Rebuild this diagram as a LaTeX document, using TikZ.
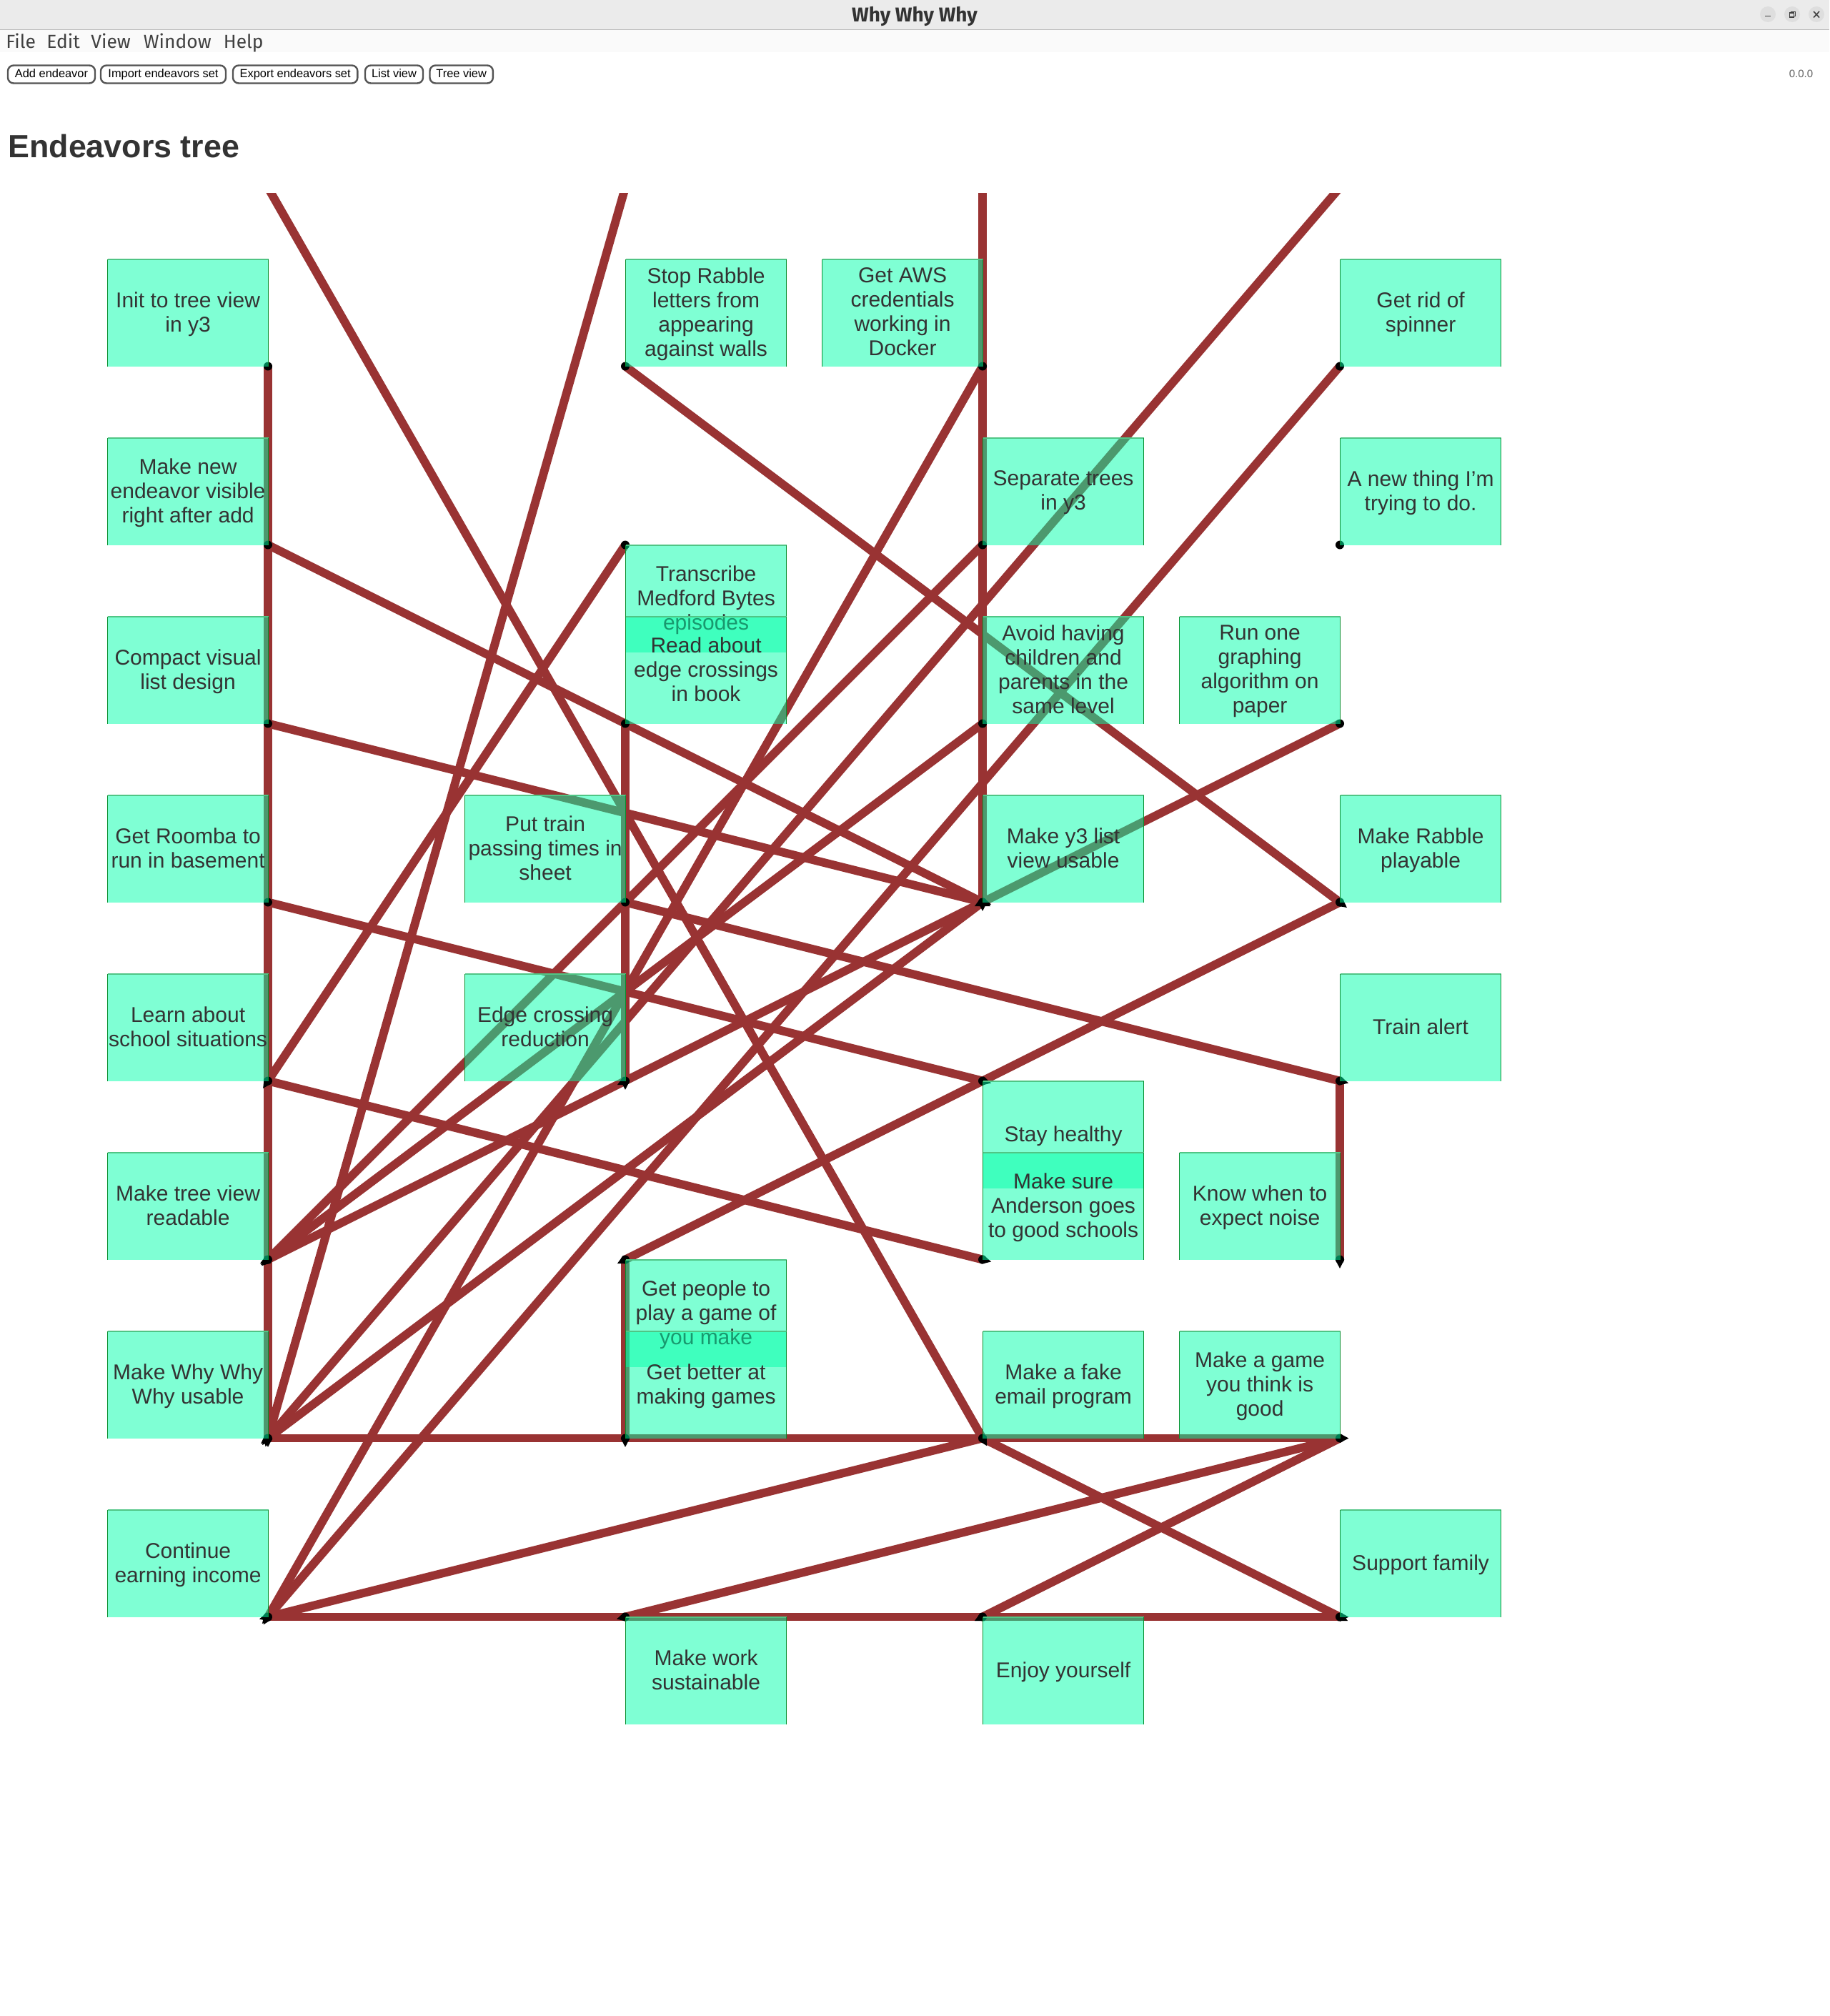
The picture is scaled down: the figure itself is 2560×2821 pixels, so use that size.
\documentclass[tikz,border=0pt]{standalone}
\usepackage{fontspec}
\setmainfont{Liberation Sans}
\newfontfamily\uifont{Fira Sans}
\usetikzlibrary{calc}
\definecolor{linkc}{HTML}{993333}
\definecolor{boxc}{HTML}{00FFAA}
\definecolor{ink}{HTML}{333333}
\definecolor{edgec}{HTML}{0A8F30}
\definecolor{edgetop}{HTML}{50C585}
\tikzset{
  boxn/.style={rectangle,inner sep=0pt,minimum width=112pt,minimum height=74.8pt,anchor=north west,
    fill=boxc,fill opacity=.5},
  boxtext/.style={inner sep=0pt,text=ink,align=center,font=\fontsize{15}{17}\selectfont,
    execute at begin node={\rule{0pt}{13.6pt}},execute at end node={\rule[-3.2pt]{0pt}{3.2pt}}},
  link/.style={linkc,line width=5.9pt},
  dotn/.style={circle,fill=black,inner sep=0pt,minimum size=6pt},
  btn/.style={draw=black!67,line width=1.2pt,rounded corners=4pt,inner sep=0pt,minimum height=12.5pt,
    text height=6pt,text depth=1.7pt,font=\fontsize{8.2}{10}\selectfont,text=black},
  menun/.style={anchor=base west,inner sep=0pt,font=\uifont\fontsize{13.2}{15}\selectfont,text=black!75},
  wbtn/.style={circle,fill=black!13,inner sep=0pt,minimum size=11pt},
  wicon/.style={black!75,line width=.6pt}
}
\newcommand{\bx}[5][-.9pt]{%
  \node[boxn] (#2) at (#3+.7,#4-.3) {};
  \draw[edgetop,line width=1pt] (#2.north west) -- (#2.north east);
  \draw[edgec,line width=.5pt] (#2.north west) -- (#2.south west);
  \draw[edgec,line width=.5pt] (#2.north east) -- (#2.south east);
  \node[boxtext,yshift=#1] (#2t) at (#2.center) {#5};
}
\begin{document}
\begin{tikzpicture}[x=.5pt,y=-.5pt]
\useasboundingbox (0,0) rectangle (2560,2821);
\fill[white] (0,0) rectangle (2560,2821);
% window chrome
\fill[black!8] (0,0) rectangle (2560,41);
\fill[black!2] (0,42) rectangle (2560,73);
\draw[black!27,line width=.5pt] (0,41.5) -- (2560,41.5);
\node[inner sep=0pt,font=\uifont\bfseries\fontsize{14}{16}\selectfont,text=black!80] (wtitle) at (1280,22.5) {Why Why Why};
\node[wbtn] (wmin) at (2474,20) {};
\node[wbtn] (wmax) at (2508,20) {};
\node[wbtn] (wclose) at (2542,20) {};
\draw[wicon,line width=.8pt] (2470,22.5) -- (2478,22.5);
\draw[wicon] (2504.5,18) rectangle (2510.5,24);
\draw[wicon,line width=.4pt] (2506.5,17.5) -- (2506.5,16.5) -- (2512,16.5) -- (2512,22) -- (2511,22);
\draw[wicon,line width=.8pt] (2538,16) -- (2546,24.5) (2546,16) -- (2538,24.5);
\node[menun] (mfile) at (8,67) {File};
\node[menun] (medit) at (65,67) {Edit};
\node[menun] (mview) at (127,67) {View};
\node[menun] (mwin) at (200.5,67) {Window};
\node[menun] (mhelp) at (312.5,67) {Help};
% toolbar
\node[btn,minimum width=61pt] (badd) at (72,104) {Add endeavor};
\node[btn,minimum width=87.5pt] (bimp) at (228.5,104) {Import endeavors set};
\node[btn,minimum width=87.2pt] (bexp) at (413.2,104) {Export endeavors set};
\node[btn,minimum width=40.5pt] (blist) at (551.5,104) {List view};
\node[btn,minimum width=44.2pt] (btree) at (645.7,104) {Tree view};
\node[inner sep=0pt,font=\fontsize{7.5}{9}\selectfont,text=black!62] (ver) at (2520.5,103) {0.0.0};
\node[anchor=base west,inner sep=0pt,font=\bfseries\fontsize{22.4}{26}\selectfont,text=ink] (ttl) at (11,220) {Endeavors tree};
% anchor points
\foreach \n/\x in {A/375,B/875,C/1375,D/1875}{
  \coordinate (T\n) at (\x,262.5);
  \foreach \k in {1,...,8}{
    \coordinate (\n\k) at (\x,262.5+250*\k);
  }
}
\def\edges{TA/C7,TB/A7,TC/C4,TD/A7,D1/A8,C1/A8,C7/A8,A7/D7,A8/D8,C4/A7,D7/B8,D7/C8,C7/D8,
  C2/A6,C3/A6,D3/C4,C4/B5,B5/A6,D4/B6,B2/A5,A5/C6,A2/C4,A3/C4,A4/C5,B1/D4,B4/D5,
  A1/A7,B3/B5,B6/B7,D5/D6}
% connectors
\begin{scope}
\clip (0,270) rectangle (2560,2821);
\foreach \a/\b in \edges { \draw[link] (\a) -- (\b); }
\end{scope}
% arrow tips
\foreach \a/\b in \edges {
  \fill[black] ($(\b)!-6.2pt!(\a)$) -- ($(\b)!3.2pt!90:(\a)$) -- ($(\b)!3.2pt!-90:(\a)$) -- cycle;
}
% dots
\foreach \n in {A,B,C,D}{
  \foreach \k in {1,...,8}{
    \node[dotn] (dot\n\k) at (\n\k) {};
  }
}
% boxes
\bx{n1}{150}{363}{Init to tree view\\in y3}
\bx{n2}{150}{613}{Make new\\endeavor visible\\right after add}
\bx{n3}{150}{863}{Compact visual\\list design}
\bx{n4}{150}{1113}{Get Roomba to\\run in basement}
\bx{n5}{150}{1363}{Learn about\\school situations}
\bx{n6}{150}{1613}{Make tree view\\readable}
\bx{n7}{150}{1863}{Make Why Why\\Why usable}
\bx{n8}{150}{2113}{Continue\\earning income}
\bx{n9}{650}{1113}{Put train\\passing times in\\sheet}
\bx{n10}{650}{1363}{Edge crossing\\reduction}
\bx{n11}{875}{363}{Stop Rabble\\letters from\\appearing\\against walls}
\bx{n12}{875}{763}{Transcribe\\Medford Bytes\\episodes}
\bx{n13}{875}{863}{Read about\\edge crossings\\in book}
\bx{n14}{875}{1763}{Get people to\\play a game of\\you make}
\bx{n15}{875}{1863}{Get better at\\making games}
\bx{n16}{875}{2263}{Make work\\sustainable}
\bx{n17}{1150}{363}{Get AWS\\credentials\\working in\\Docker}
\bx{n18}{1375}{613}{Separate trees\\in y3}
\bx{n19}{1375}{863}{Avoid having\\children and\\parents in the\\same level}
\bx{n20}{1375}{1113}{Make y3 list\\view usable}
\bx[.5pt]{n21}{1375}{1513}{Stay healthy}
\bx{n22}{1375}{1613}{Make sure\\Anderson goes\\to good schools}
\bx{n23}{1375}{1863}{Make a fake\\email program}
\bx[.5pt]{n24}{1375}{2263}{Enjoy yourself}
\bx{n25}{1650}{863}{Run one\\graphing\\algorithm on\\paper}
\bx{n26}{1650}{1613}{Know when to\\expect noise}
\bx{n27}{1650}{1863}{Make a game\\you think is\\good}
\bx{n28}{1875}{363}{Get rid of\\spinner}
\bx{n29}{1875}{613}{A new thing I'm\\trying to do.}
\bx{n30}{1875}{1113}{Make Rabble\\playable}
\bx[.5pt]{n31}{1875}{1363}{Train alert}
\bx[.5pt]{n32}{1875}{2113}{Support family}
\end{tikzpicture}
\end{document}
